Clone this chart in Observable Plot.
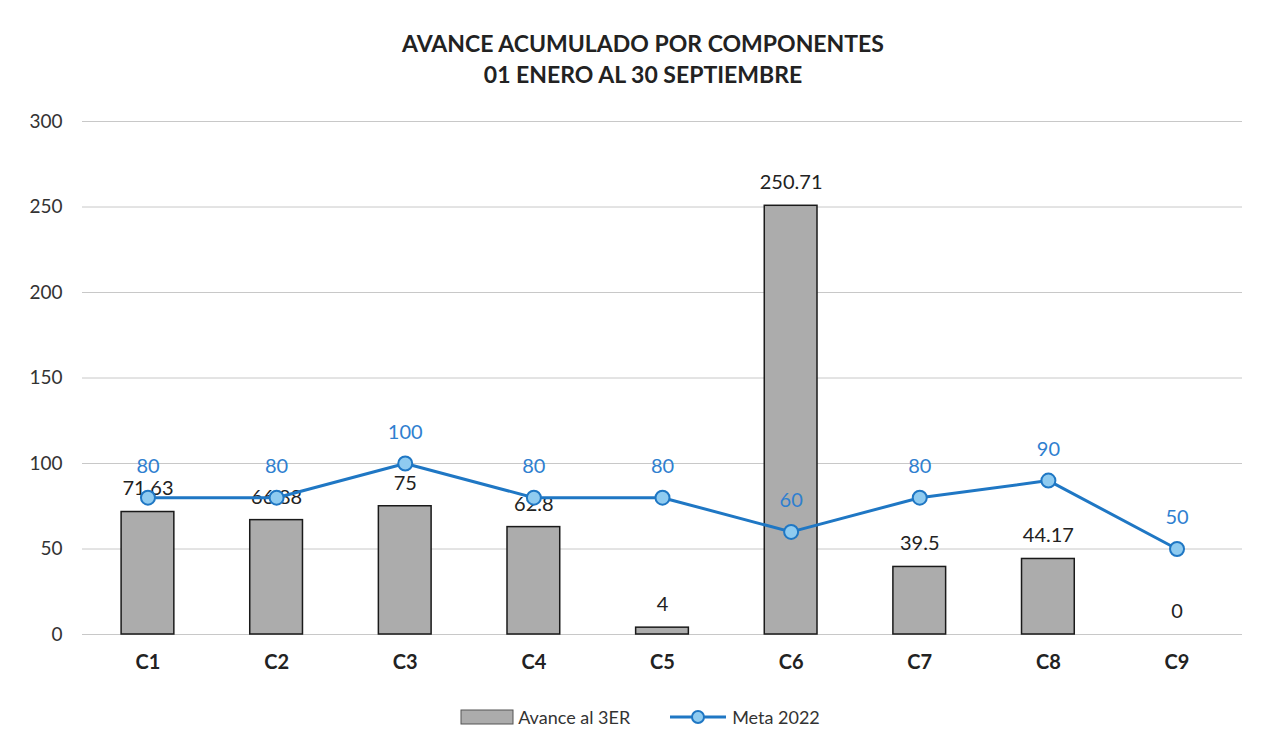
<!DOCTYPE html>
<html>
<head>
<meta charset="utf-8">
<script src="https://cdn.jsdelivr.net/npm/d3@7"></script>
<script src="https://cdn.jsdelivr.net/npm/@observablehq/plot@0.6"></script>
<style>
  html, body { margin: 0; padding: 0; background: #fff; }
  body { width: 1270px; height: 753px; overflow: hidden; font-family: Lato, "Open Sans", sans-serif; color: #222; }
  #title { text-align: center; font-weight: bold; font-size: 23px; line-height: 31px; padding-top: 28px; height: 62px; padding-left: 16px; }
  #legend { display: flex; justify-content: center; align-items: center; gap: 38px; font-size: 18px; padding-top: 16px; padding-left: 10px; color: #333; }
  .li { display: flex; align-items: center; gap: 4px; }
</style>
</head>
<body>
<div id="title">AVANCE ACUMULADO POR COMPONENTES<br>01 ENERO AL 30 SEPTIEMBRE</div>
<div id="chart"></div>
<div id="legend">
  <div class="li"><svg width="54" height="16"><rect x="1" y="1" width="52" height="14" fill="#acacac" stroke="#555" stroke-width="1"/></svg><span>Avance al 3ER</span></div>
  <div class="li"><svg width="60" height="16"><line x1="2" y1="8" x2="58" y2="8" stroke="#1f77c4" stroke-width="3"/><circle cx="30" cy="8" r="6" fill="#8fcbf0" stroke="#1f77c4" stroke-width="2"/></svg><span>Meta 2022</span></div>
</div>
<script>
const categories = ["C1","C2","C3","C4","C5","C6","C7","C8","C9"];
const avance = [71.63, 66.88, 75, 62.8, 4, 250.71, 39.5, 44.17, 0];
const meta = [80, 80, 100, 80, 80, 60, 80, 90, 50];
const yTicks = [0, 50, 100, 150, 200, 250, 300];

const data = categories.map((c, i) => ({c, avance: avance[i], meta: meta[i]}));

const chart = Plot.plot({
  width: 1270,
  height: 600,
  marginTop: 31,
  marginBottom: 56,
  marginLeft: 82,
  marginRight: 28,
  style: {fontFamily: "Lato, 'Open Sans', sans-serif", fontSize: "18px", color: "#333", background: "#fff"},
  x: {domain: categories, paddingInner: 0.59, paddingOuter: 0.304, round: false, label: null},
  y: {domain: [0, 300], ticks: yTicks, label: null},
  marks: [
    Plot.gridY(yTicks, {stroke: "#c8c8c8", strokeOpacity: 1, strokeWidth: 1}),
    Plot.axisY(yTicks, {tickSize: 0, tickPadding: 20, fontSize: 19, fill: "#333", label: null}),
    Plot.axisX({tickSize: 0, tickPadding: 20, fontSize: 20, fontWeight: "bold", fill: "#222", label: null}),
    Plot.barY(data, {x: "c", y: "avance", fill: "#acacac", stroke: "#1a1a1a", strokeWidth: 1.5}),
    Plot.text(data, {x: "c", y: "avance", text: d => String(d.avance), dy: -23, fontSize: 20, fill: "#222"}),
    Plot.line(data, {x: "c", y: "meta", stroke: "#1f77c4", strokeWidth: 3}),
    Plot.dot(data, {x: "c", y: "meta", r: 7, fill: "#8fcbf0", stroke: "#1f77c4", strokeWidth: 2}),
    Plot.text(data, {x: "c", y: "meta", text: d => String(d.meta), dy: -31, fontSize: 20, fill: "#2f7fd0"})
  ]
});
document.getElementById("chart").appendChild(chart);
</script>
</body>
</html>
